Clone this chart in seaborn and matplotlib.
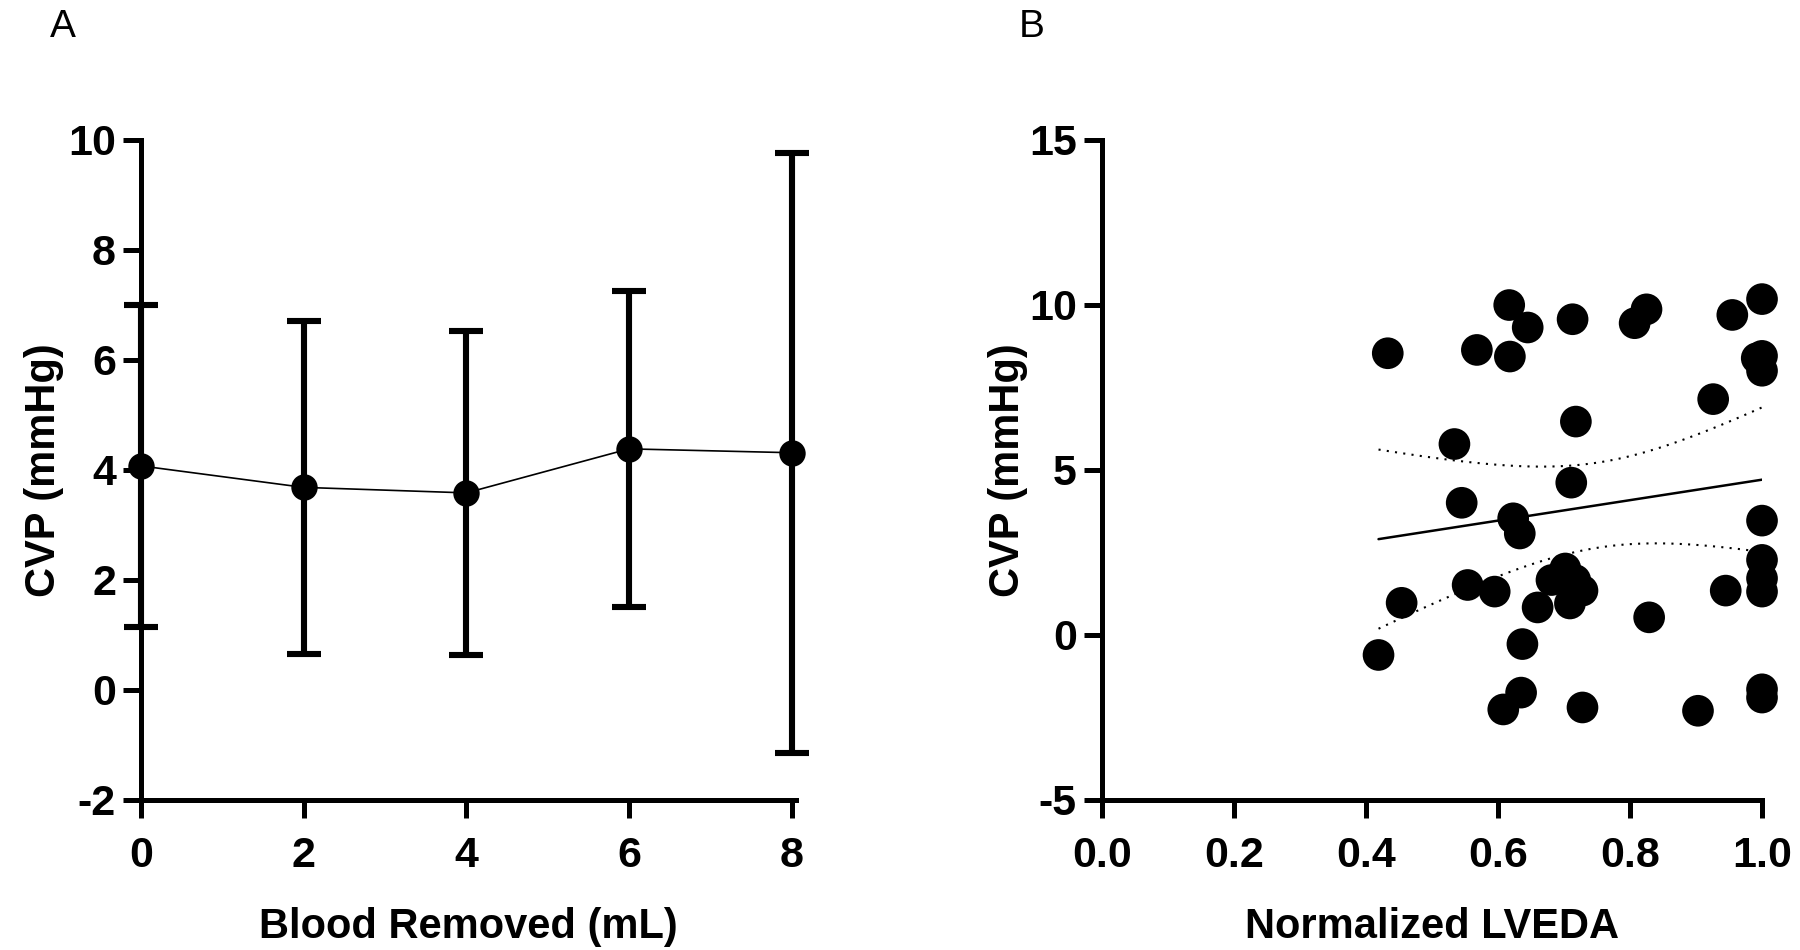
import numpy as np
import pandas as pd
import matplotlib
matplotlib.use("Agg")
import matplotlib.pyplot as plt
import seaborn as sns

# ==============================================================================
# Datos
# ==============================================================================

# Panel A: CVP medio vs sangre extraída
sangre_ml = [0, 2, 4, 6, 8]
cvp_media = [4.07, 3.68, 3.58, 4.38, 4.31]
cvp_error = [2.93, 3.02, 2.94, 2.87, 5.45]

# Panel B: CVP vs LVEDA normalizado
lveda_norm = [0.419, 0.433, 0.454, 0.534, 0.545, 0.554, 0.568, 0.595, 0.608,
              0.617, 0.618, 0.623, 0.633, 0.637, 0.635, 0.645, 0.660, 0.681,
              0.702, 0.717, 0.728, 0.709, 0.713, 0.718, 0.711, 0.728, 0.807,
              0.825, 0.829, 0.903, 0.926, 0.945, 0.955, 1.000, 0.992, 1.000,
              1.000, 1.000, 1.000, 1.000, 1.000, 1.000, 1.000]
cvp_puntos = [-0.61, 8.53, 0.97, 5.78, 4.00, 1.51, 8.63, 1.31, -2.26,
              9.99, 8.43, 3.53, 3.07, -0.28, -1.75, 9.31, 0.83, 1.66,
              2.01, 1.66, 1.34, 0.95, 9.56, 6.46, 4.61, -2.20, 9.44,
              9.86, 0.53, -2.30, 7.14, 1.34, 9.69, 10.17, 8.38, 8.45,
              8.00, 3.46, 2.27, 1.71, 1.31, -1.65, -1.90]

# Recta de regresión (pendiente, intercepto)
pendiente = 3.1
intercepto = 1.6

df_a = pd.DataFrame({"sangre": sangre_ml, "cvp": cvp_media})
df_b = pd.DataFrame({"lveda": lveda_norm, "cvp": cvp_puntos})

# ==============================================================================
# Estilo
# ==============================================================================
sns.set_style("ticks")
plt.rcParams["font.family"] = ["Liberation Sans", "DejaVu Sans"]
plt.rcParams["axes.unicode_minus"] = False
plt.rcParams["text.color"] = "black"
plt.rcParams["axes.labelcolor"] = "black"
plt.rcParams["xtick.color"] = "black"
plt.rcParams["ytick.color"] = "black"

ESPINA = 3.6


def estilo_prism(ax):
    sns.despine(ax=ax)
    for lado in ["left", "bottom"]:
        ax.spines[lado].set_linewidth(ESPINA)
        ax.spines[lado].set_color("black")
    ax.tick_params(axis="both", width=ESPINA, length=13, direction="out",
                   labelsize=31, color="black", labelcolor="black")
    ax.tick_params(axis="x", pad=13)
    ax.tick_params(axis="y", pad=5)
    for lab in ax.get_xticklabels() + ax.get_yticklabels():
        lab.set_fontweight("bold")


fig = plt.figure(figsize=(18, 9.5), dpi=100)
ax_a = fig.add_axes([0.0784, 0.158, 0.3636, 0.695])
ax_b = fig.add_axes([0.6122, 0.158, 0.3667, 0.695])

# ==============================================================================
# Panel A
# ==============================================================================
ax_a.errorbar(sangre_ml, cvp_media, yerr=cvp_error, fmt="none", ecolor="black",
              elinewidth=4.4, capsize=12, capthick=4.4, zorder=2, clip_on=False)
sns.lineplot(data=df_a, x="sangre", y="cvp", ax=ax_a, color="black",
             linewidth=1.2, marker="o", markersize=19, markeredgewidth=0,
             zorder=3, clip_on=False)
ax_a.set_xlim(0, 8.05)
ax_a.set_ylim(-2, 10)
ax_a.set_xticks([0, 2, 4, 6, 8])
ax_a.set_yticks([-2, 0, 2, 4, 6, 8, 10])
ax_a.set_xlabel("Blood Removed (mL)", fontsize=30, fontweight="bold", labelpad=22)
ax_a.set_ylabel("CVP (mmHg)", fontsize=30, fontweight="bold", labelpad=3)
estilo_prism(ax_a)

# ==============================================================================
# Panel B
# ==============================================================================
sns.scatterplot(data=df_b, x="lveda", y="cvp", ax=ax_b, color="black", s=520,
                edgecolor="none", zorder=3, clip_on=False)

# Banda de confianza del 95 % alrededor de la recta
x = np.array(lveda_norm)
y = np.array(cvp_puntos)
n = len(x)
xs = np.linspace(x.min(), x.max(), 100)
ys = intercepto + pendiente * xs
resid = y - (intercepto + pendiente * x)
s_err = np.sqrt(np.sum(resid ** 2) / (n - 2))
t_val = 2.018
banda = t_val * s_err * np.sqrt(1 / n + (xs - x.mean()) ** 2 / np.sum((x - x.mean()) ** 2))
ax_b.plot(xs, ys, color="black", linewidth=1.8, zorder=2)
ax_b.plot(xs, ys + banda, color="black", linewidth=1.5, linestyle=(0, (1, 3)), zorder=2)
ax_b.plot(xs, ys - banda, color="black", linewidth=1.5, linestyle=(0, (1, 3)), zorder=2)

ax_b.set_xlim(0, 1.0)
ax_b.set_ylim(-5, 15)
ax_b.set_xticks([0.0, 0.2, 0.4, 0.6, 0.8, 1.0])
ax_b.set_xticklabels(["0.0", "0.2", "0.4", "0.6", "0.8", "1.0"])
ax_b.set_yticks([-5, 0, 5, 10, 15])
ax_b.set_xlabel("Normalized LVEDA", fontsize=30, fontweight="bold", labelpad=22)
ax_b.set_ylabel("CVP (mmHg)", fontsize=30, fontweight="bold", labelpad=1)
estilo_prism(ax_b)

# Etiquetas de panel
fig.text(0.035, 0.972, "A", fontsize=28, va="center", ha="center")
fig.text(0.573, 0.972, "B", fontsize=28, va="center", ha="center")

plt.savefig("out.png", dpi=100)
